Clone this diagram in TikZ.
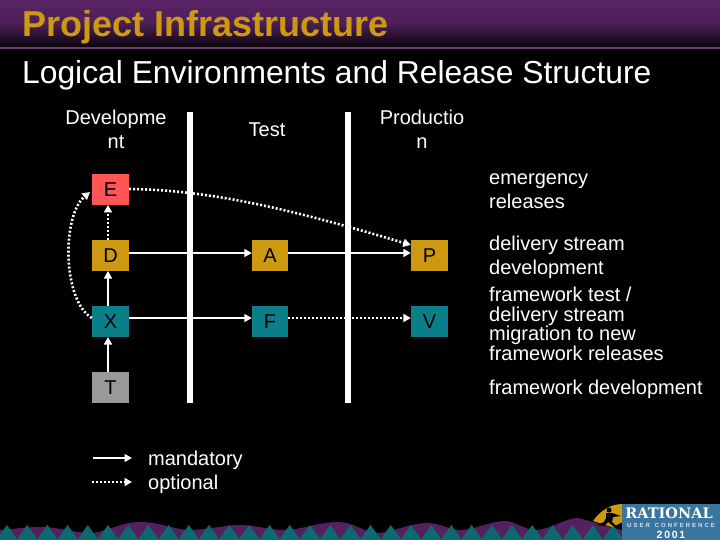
\documentclass[tikz,border=0pt]{standalone}
\usepackage{fontspec}
\setmainfont{Liberation Sans}
\newfontfamily\slabfont{DejaVu Serif}
\usetikzlibrary{arrows.meta,calc}
\definecolor{hdrpurple}{HTML}{5A2466}
\definecolor{hdrline}{HTML}{6B3A78}
\definecolor{goldbox}{HTML}{CC9910}
\definecolor{tealbox}{HTML}{0A7F8A}
\definecolor{redbox}{HTML}{FF5555}
\definecolor{greybox}{HTML}{999999}
\definecolor{logoblue}{HTML}{3A75A0}
\definecolor{hillpurple}{HTML}{55205F}
\definecolor{peakteal}{HTML}{0A6A70}
\tikzset{
  x=1pt,y=-1pt,
  envbox/.style={draw=none,minimum height=31pt,inner sep=0pt,text=black,font=\fontsize{20}{20}\selectfont},
  wide/.style={envbox,minimum width=37pt},
  narrow/.style={envbox,minimum width=36pt},
  lab/.style={text=white,inner sep=0pt,font=\fontsize{20}{24}\selectfont},
  tight/.style={text=white,inner sep=0pt,font=\fontsize{20}{19.5}\selectfont},
  tip/.style={-{Triangle[length=7.5pt,width=8pt]}},
  solidlink/.style={white,line width=1.6pt,tip},
  dotlink/.style={white,line width=2.6pt,dash pattern=on 2pt off 2pt,tip},
  bar/.style={fill=white,draw=none,minimum width=6pt,minimum height=291pt,inner sep=0pt},
}
\begin{document}
\begin{tikzpicture}
\useasboundingbox (0,0) rectangle (720,540);
\fill[black] (0,0) rectangle (720,540);
% header
\shade[top color=hdrpurple,bottom color=hdrpurple!12!black,middle color=hdrpurple!85!black] (0,0) rectangle (720,47);
\fill[hdrline] (0,47) rectangle (720,49);
\node[anchor=base west,inner sep=0pt,text=goldbox,font=\fontsize{36}{36}\selectfont\bfseries] (title) at (22,37) {Project Infrastructure};
\node[anchor=base west,inner sep=0pt,text=white,font=\fontsize{31.8}{32}\selectfont] (subtitle) at (22,84) {Logical Environments and Release Structure};
% footer
\fill[hillpurple] (0,540) -- (0,530) .. controls (15,529) and (25,527) .. (40,527)
  .. controls (60,527) and (75,533) .. (90,533)
  .. controls (105,533) and (120,522) .. (140,522)
  .. controls (160,522) and (175,530) .. (190,530)
  .. controls (205,530) and (225,525) .. (240,525)
  .. controls (255,525) and (270,530) .. (285,530)
  .. controls (300,530) and (320,522) .. (337,522)
  .. controls (355,522) and (365,533) .. (377,533)
  .. controls (390,533) and (410,523) .. (427,523)
  .. controls (440,523) and (450,530) .. (460,530)
  .. controls (475,530) and (490,521) .. (505,521)
  .. controls (515,521) and (525,530) .. (535,530)
  .. controls (550,530) and (565,518) .. (578,518)
  -- (600,524) -- (622,530) -- (622,540) -- cycle;
\foreach \k in {0,...,30}{
  \fill[peakteal] ({7+20.2*\k-10.8},540) -- ({7+20.2*\k},525) -- ({7+20.2*\k+10.8},540) -- cycle;
}
\fill[goldbox] (593,521) .. controls (600,511) and (610,504) .. (623,504) -- (623,522) -- (612,527) -- cycle;
\fill[black] (609,510) circle (2.5);
\fill[black] (606,513) -- (612,513) -- (621,516) -- (613,517) -- (612,522) -- (616,526) -- (613,526) -- (608,522) -- (604,526) -- (597,525) -- (604,522) -- (606,518) -- cycle;
\fill[logoblue] (622,504) rectangle (720,540);
\node[inner sep=0pt,text=white,font=\slabfont\fontsize{14.5}{14.5}\selectfont\bfseries] (logo1) at (669,513) {RATIONAL};
\node[inner sep=0pt,text=white!80!logoblue,font=\fontsize{6}{6}\selectfont\bfseries] (logo2) at (671,525) {U\,\,S\,\,E\,\,R\ \ \ C\,\,O\,\,N\,\,F\,\,E\,\,R\,\,E\,\,N\,\,C\,\,E};
\node[inner sep=0pt,text=white,font=\fontsize{10.5}{10.5}\selectfont\bfseries] (logo3) at (671,535) {2\,0\,0\,1};
% column heads
\node[lab,align=center] (hdev) at (116,129.5) {Developme\\nt};
\node[lab,align=center] (htest) at (267,129.5) {Test};
\node[lab,align=center] (hprod) at (422,129.5) {Productio\\n};
% bars
\node[bar] (bar1) at (190,257.5) {};
\node[bar] (bar2) at (348,257.5) {};
% boxes
\node[wide,fill=redbox] (E) at (110.5,189.5) {E};
\node[wide,fill=goldbox] (D) at (110.5,255.5) {D};
\node[wide,fill=tealbox] (X) at (110.5,321.5) {X};
\node[wide,fill=greybox] (T) at (110.5,387.5) {T};
\node[narrow,fill=goldbox] (A) at (270,255.5) {A};
\node[narrow,fill=tealbox] (F) at (270,321.5) {F};
\node[wide,fill=goldbox] (P) at (429.5,255.5) {P};
\node[wide,fill=tealbox] (V) at (429.5,321.5) {V};
% connectors
\draw[solidlink] (T.north -| 108,0) -- (108,337);
\draw[solidlink] (108,306) -- (108,271);
\draw[dotlink] (108,240) -- (108,205);
\draw[solidlink] (D.east |- 0,253) -- (A.west |- 0,253);
\draw[solidlink] (A.east |- 0,253) -- (P.west |- 0,253);
\draw[solidlink] (X.east |- 0,318) -- (F.west |- 0,318);
\draw[dotlink] (F.east |- 0,318) -- (V.west |- 0,318);
\draw[dotlink] (X.west |- 0,318) .. controls (62,300) and (62,215) .. (90,192);
\draw[dotlink] (E.east |- 0,189) .. controls (215,190) and (300,212) .. (P.west |- 0,245);
% right labels
\node[lab,align=left,anchor=west] (r1) at (489,191) {emergency\\releases};
\node[lab,align=left,anchor=west] (r2) at (489,257) {delivery stream\\development};
\node[tight,align=left,anchor=west] (r3) at (489,324) {framework test /\\delivery stream\\migration to new\\framework releases};
\node[lab,align=left,anchor=west] (r4) at (489,389) {framework development};
% legend
\coordinate (s1) at (93,458); \coordinate (s2) at (132,458);
\coordinate (o1) at (92,482); \coordinate (o2) at (132,482);
\draw[solidlink] (s1) -- (s2);
\draw[dotlink] (o1) -- (o2);
\node[lab,align=left,anchor=west] (leg) at (148,472) {mandatory\\optional};
\end{tikzpicture}
\end{document}
